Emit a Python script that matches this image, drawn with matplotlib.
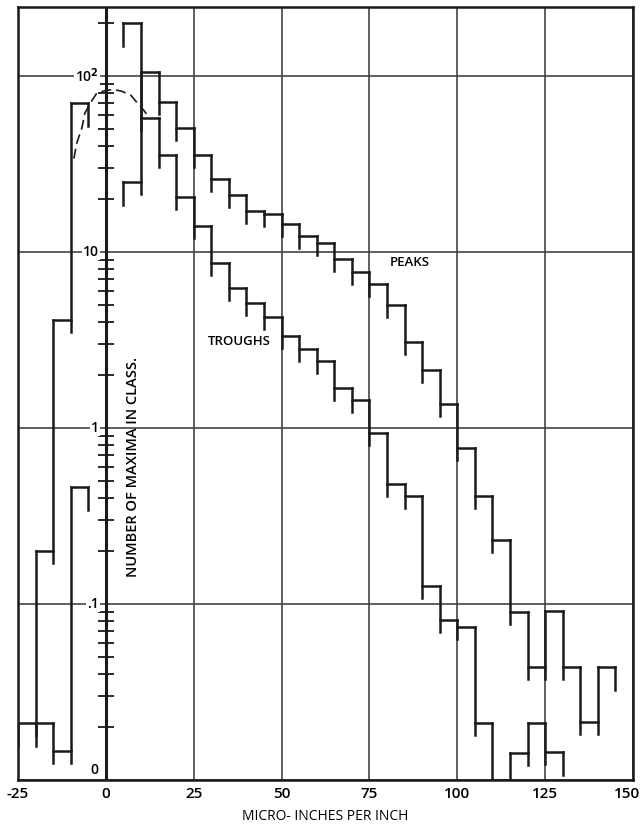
import numpy as np
import matplotlib.pyplot as plt
from matplotlib.ticker import NullLocator
from matplotlib.transforms import ScaledTranslation

plt.rcParams['font.family'] = ['Open Sans', 'DejaVu Sans']
plt.rcParams['font.weight'] = 600

# class width (micro-inches per inch)
BIN = 5
YMIN, YMAX = 0.01, 247   # bottom of log axis is labelled "0"

# PEAKS, classes starting at 5
peaks_start = 5
peaks = [25, 105, 71, 51, 35.5, 25.9, 21, 17.2, 16.4, 14.5, 12.4, 11.3, 9.2, 7.7,
         6.6, 5.0, 3.1, 2.14, 1.37, 0.77, 0.41, 0.23, 0.09, 0.044, 0.091, 0.044,
         0.0215, 0.044]

# TROUGHS, classes starting at 5 (0 = empty class)
troughs_start = 5
troughs = [200, 58, 35.5, 20.7, 14, 8.7, 6.26, 5.15, 4.3, 3.34, 2.83, 2.41, 1.69,
           1.44, 0.94, 0.48, 0.41, 0.126, 0.0815, 0.074, 0.021, 0, 0.0142, 0.021,
           0.0145]

# negative side
neg_a_start = -25
neg_a = [0.021, 0.2, 4.1, 70]
neg_b_start = -20
neg_b = [0.021, 0.0147, 0.46]

# dashed fitted curve round zero
curve_x = [-9.1, -8.3, -6.8, -6.0, -4.3, -2.6, 0, 2.3, 4.6, 7.1, 8.8, 10.8, 12.3]
curve_y = [34, 41.5, 51, 61.5, 71, 80, 83, 84, 82, 78, 71, 64, 58]

decades = [0.01, 0.1, 1, 10, 100]
dec_labels = ['0', '.1', '1', '10', '10$^2$']

LC = '#1a1a1a'


def draw_hist(ax, start, vals, over=1.17, tail=1.35):
    # hand-drawn style steps: verticals run a little past the lower level
    vals = np.array([v if v > 0 else YMIN for v in vals], dtype=float)
    edges = start + BIN * np.arange(len(vals) + 1)
    kw = dict(color=LC, linewidth=1.8, capstyle='projecting', zorder=4)
    ax.hlines(vals, edges[:-1], edges[1:], **kw)
    for i in range(1, len(vals)):
        hi = max(vals[i - 1], vals[i])
        lo = min(vals[i - 1], vals[i]) / over
        ax.vlines(edges[i], lo, hi, **kw)
    ax.vlines(edges[0], vals[0] / tail, vals[0], **kw)
    ax.vlines(edges[-1], vals[-1] / tail, vals[-1], **kw)


fig = plt.figure(figsize=(6.41, 8.24), dpi=100)
ax = fig.add_axes([0.0281, 0.0534, 0.9594, 0.938])
ax.set_yscale('log')
ax.set_xlim(-25, 150)
ax.set_ylim(YMIN, YMAX)

# grid
xt = list(range(-25, 151, 25))
ax.set_xticks(xt)
ax.set_yticks(decades)
ax.yaxis.set_minor_locator(NullLocator())
ax.grid(True, which='major', color='#444444', linewidth=1.2, zorder=1)
ax.tick_params(axis='both', length=0)
ax.tick_params(axis='y', labelleft=False)
ax.tick_params(axis='x', labelsize=11, pad=5)
ax.set_xticklabels([str(v) for v in xt])
last = ax.get_xticklabels()[-1]
last.set_transform(last.get_transform() + ScaledTranslation(-0.06, 0, fig.dpi_scale_trans))
for s in ax.spines.values():
    s.set_linewidth(1.8)
    s.set_color(LC)

# y axis drawn at x = 0 with log ticks
ax.axvline(0, color=LC, linewidth=2.2, zorder=3)
minor = [m * d for d in decades for m in range(2, 10) if m * d < YMAX]
ax.plot([0] * len(minor), minor, linestyle='none', marker='_', markersize=12,
        markeredgewidth=1.3, color=LC, zorder=3)
for v, lab in zip(decades, dec_labels):
    yy = v * 1.14 if v == YMIN else v
    ax.text(-2.0, yy, lab, ha='right', va='center', fontsize=10, zorder=5,
            bbox=dict(facecolor='white', edgecolor='none', pad=0.6))

draw_hist(ax, neg_a_start, neg_a)
draw_hist(ax, neg_b_start, neg_b)
draw_hist(ax, troughs_start, troughs)
draw_hist(ax, peaks_start, peaks)

ax.plot(curve_x, curve_y, color=LC, linewidth=1.2, linestyle=(0, (6, 3)), zorder=4)

ax.text(86.6, 8.7, 'PEAKS', ha='center', va='center', fontsize=9.5)
ax.text(38.0, 3.1, 'TROUGHS', ha='center', va='center', fontsize=9.5)
ax.text(7.7, 0.6, 'NUMBER OF MAXIMA IN CLASS.', rotation=90, ha='center',
        va='center', fontsize=10.5)

ax.set_xlabel('MICRO- INCHES PER INCH', fontsize=10, labelpad=6)

fig.savefig('out.png', dpi=100)
